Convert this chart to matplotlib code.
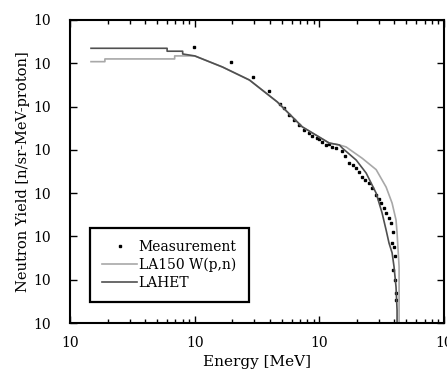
import matplotlib
matplotlib.use("Agg")
import matplotlib.pyplot as plt
from matplotlib.ticker import FixedLocator, FixedFormatter, LogLocator, NullFormatter

# -----------------------------
# --- Data
# -----------------------------
meas_e = [0.98, 1.94, 2.96, 3.98, 4.88, 5.25, 5.75, 6.3, 6.9, 7.6, 8.3, 8.8, 9.5,
          10.0, 10.5, 11.4, 12.0, 12.7, 13.7, 15.3, 16.2, 17.4, 18.5, 19.8, 21.0,
          22.1, 23.4, 25.1, 26.5, 28.6, 30.2, 31.3, 33.0, 34.4, 36.3, 37.7, 38.4,
          39.0, 39.8, 39.1, 40.6, 40.6, 41.3, 41.3]
meas_y = [0.238, 0.107, 0.048, 0.023, 0.0115, 9.3e-3, 6.4e-3, 4.9e-3, 3.8e-3, 2.9e-3,
          2.45e-3, 2.1e-3, 1.9e-3, 1.8e-3, 1.5e-3, 1.3e-3, 1.36e-3, 1.18e-3, 1.1e-3,
          9.5e-4, 7.3e-4, 5.0e-4, 4.5e-4, 3.8e-4, 3.1e-4, 2.4e-4, 2.0e-4, 1.7e-4,
          1.3e-4, 9.1e-5, 7.3e-5, 5.9e-5, 4.6e-5, 3.5e-5, 2.7e-5, 2.0e-5, 7.0e-6,
          1.3e-5, 5.7e-6, 1.7e-6, 3.5e-6, 1.0e-6, 5.0e-7, 3.5e-7]

la150_e = [0.147, 0.19, 0.19, 0.69, 0.69, 1.0, 1.67, 2.75, 4.6, 7.3, 12.0, 14.5,
           16.4, 22.1, 28.6, 34.4, 38.4, 41.3, 42.1, 43.7, 43.7]
la150_y = [0.109, 0.109, 0.126, 0.126, 0.148, 0.148, 0.082, 0.041, 0.0128, 3.4e-3,
           1.44e-3, 1.30e-3, 1.17e-3, 6.4e-4, 3.5e-4, 1.38e-4, 5.9e-5, 2.4e-5,
           1.2e-5, 2.0e-6, 1e-9]

lahet_e = [0.147, 0.6, 0.6, 0.8, 0.8, 1.0, 1.67, 2.75, 4.6, 7.3, 12.0, 14.5,
           15.3, 19.8, 23.8, 28.6, 31.9, 34.4, 36.3, 38.4, 39.8, 41.3, 42.1, 42.1]
lahet_y = [0.222, 0.222, 0.19, 0.19, 0.164, 0.148, 0.082, 0.041, 0.0128, 3.4e-3,
           1.44e-3, 1.30e-3, 1.1e-3, 5.8e-4, 2.9e-4, 1.0e-4, 3.5e-5, 1.4e-5, 7.0e-6,
           4.2e-6, 2.0e-6, 6.8e-7, 2.0e-7, 1e-9]

x_decades = [0.1, 1, 10, 100]
y_decades = [1e-7, 1e-6, 1e-5, 1e-4, 1e-3, 1e-2, 1e-1, 1]
tick_text = "10"

# -----------------------------
# --- Plot
# -----------------------------
plt.rcParams['font.family'] = ['DejaVu Serif']
plt.rcParams['font.size'] = 10

fig = plt.figure(figsize=(4.47, 3.77), dpi=100)
ax = fig.add_axes([0.157, 0.143, 0.836, 0.804])

ax.plot(meas_e, meas_y, 's', ms=1.7, color='black', label='Measurement')
ax.plot(la150_e, la150_y, color='#a8a8a8', lw=1.2, label='LA150 W(p,n)')
ax.plot(lahet_e, lahet_y, color='#505050', lw=1.2, label='LAHET')

ax.set_xscale('log')
ax.set_yscale('log')
ax.set_xlim(0.1, 100)
ax.set_ylim(1e-7, 1)

ax.xaxis.set_major_locator(FixedLocator(x_decades))
ax.xaxis.set_major_formatter(FixedFormatter([tick_text] * len(x_decades)))
ax.xaxis.set_minor_locator(LogLocator(base=10, subs=range(2, 10)))
ax.xaxis.set_minor_formatter(NullFormatter())
ax.yaxis.set_major_locator(FixedLocator(y_decades))
ax.yaxis.set_major_formatter(FixedFormatter([tick_text] * len(y_decades)))
ax.yaxis.set_minor_locator(FixedLocator([]))

ax.tick_params(which='both', direction='in', top=True, right=True, width=1.0)
ax.tick_params(which='major', length=5)
ax.tick_params(which='minor', length=3)
ax.tick_params(axis='y', pad=14)
ax.tick_params(axis='x', pad=9)
for s in ax.spines.values():
    s.set_linewidth(1.5)

ax.set_xlabel("Energy [MeV]", fontsize=11, labelpad=4)
ax.set_ylabel("Neutron Yield [n/sr-MeV-proton]", fontsize=10.5, labelpad=2)

leg = ax.legend(loc='lower left', bbox_to_anchor=(0.053, 0.069), borderaxespad=0,
                fancybox=False, handlelength=2.5, handletextpad=0.1,
                labelspacing=0.25, borderpad=0.9, framealpha=1, markerscale=1.2)
leg.get_frame().set_edgecolor('black')
leg.get_frame().set_linewidth(1.6)

fig.savefig("out.png", dpi=100)
